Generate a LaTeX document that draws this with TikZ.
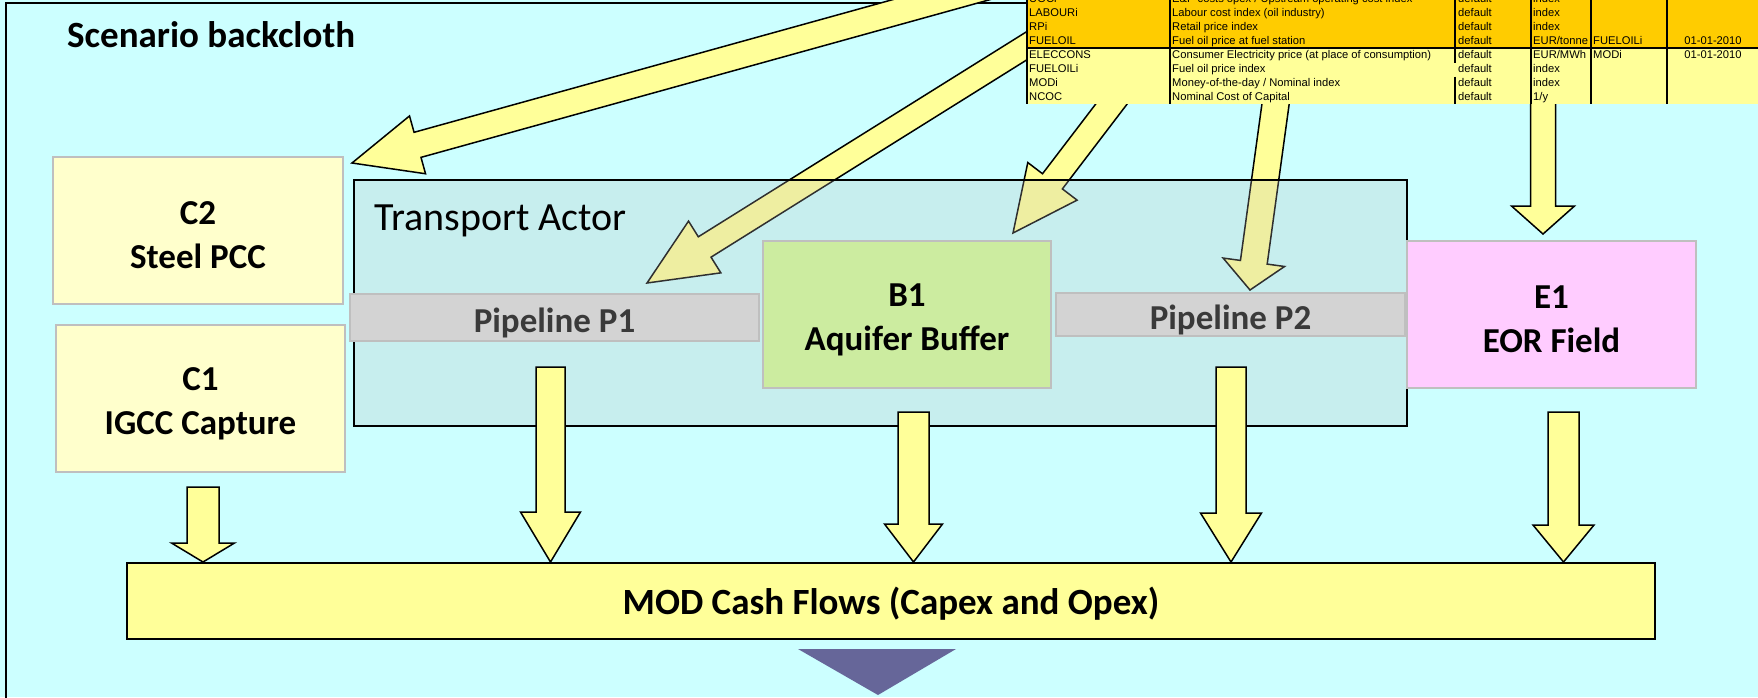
\documentclass[tikz,border=0pt]{standalone}
\usepackage{fontspec}
\setmainfont{Carlito}
\newfontfamily\tablefont{Liberation Sans}
\usetikzlibrary{calc}

\definecolor{backcloth}{RGB}{204,255,255}
\definecolor{capbox}{RGB}{255,255,204}
\definecolor{boxedge}{RGB}{191,191,191}
\definecolor{pipefill}{RGB}{211,211,211}
\definecolor{bufferfill}{RGB}{204,236,160}
\definecolor{eorfill}{RGB}{255,204,255}
\definecolor{flowyellow}{RGB}{255,255,153}
\definecolor{actorgray}{RGB}{188,188,188}
\definecolor{tableorange}{RGB}{255,204,0}
\definecolor{downpurple}{RGB}{102,102,153}
\definecolor{pipetext}{RGB}{58,58,58}

\tikzset{
  bigarrow/.style={fill=flowyellow, draw=black, line width=1.5pt, line join=miter},
  unitbox/.style={draw=boxedge, line width=2pt, inner sep=0pt},
  unittext/.style={align=center, inner sep=0pt, yshift=-5pt,
    font=\fontsize{35}{44}\selectfont\bfseries},
  pipebox/.style={draw=boxedge, line width=2pt, fill=pipefill, inner sep=0pt,
    text depth=0pt, text=pipetext, font=\fontsize{35}{44}\selectfont\bfseries},
  tcell/.style={anchor=base west, inner sep=0pt,
    font=\tablefont\fontsize{11.2}{13}\selectfont},
  tline/.style={line width=2pt},
}

% block arrow: tail, tip, shaft half width, head half width, head length
\newcommand\blockarrow[5]{%
  \coordinate (ba) at ($(#2)!#5!(#1)$);
  \filldraw[bigarrow]
    ($(#1)!#3!90:(#2)$) -- ($(ba)!#3!90:(#2)$) -- ($(ba)!#4!90:(#2)$) -- (#2)
    -- ($(ba)!#4!-90:(#2)$) -- ($(ba)!#3!-90:(#2)$) -- ($(#1)!#3!-90:(#2)$) -- cycle;
}

% one row of the parameter table: row number, six cells
\newcommand\tablerow[7]{%
  \node[tcell] (r#1c1) at (1029,{2.6+14*(#1-1)}) {#2};
  \node[tcell] (r#1c2) at (1172,{2.6+14*(#1-1)}) {#3};
  \node[tcell] (r#1c3) at (1458,{2.6+14*(#1-1)}) {#4};
  \node[tcell] (r#1c4) at (1533,{2.6+14*(#1-1)}) {#5};
  \node[tcell] (r#1c5) at (1593,{2.6+14*(#1-1)}) {#6};
  \node[tcell, anchor=base] (r#1c6) at (1713,{2.6+14*(#1-1)}) {#7};
}

\begin{document}
\begin{tikzpicture}[x=1pt, y=-1pt]
\useasboundingbox (0,0) rectangle (1758,697);
\clip (0,0) rectangle (1758,697);

% backcloth
\fill[backcloth] (0,0) rectangle (1758,697);
\draw[line width=2pt] (6,760) -- (6,3) -- (1800,3);
\node[anchor=base west, inner sep=0pt, font=\fontsize{37}{44}\selectfont\bfseries]
  (title) at (67,47) {Scenario backcloth};

% arrows coming down from the parameter table
\coordinate (src1) at (1050,-30.5);  \coordinate (dst1) at (352,163);
\coordinate (src2) at (1156,-35);    \coordinate (dst2) at (647,283);
\coordinate (src3) at (1195,-5.5);   \coordinate (dst3) at (1013,233);
\coordinate (src4) at (1284,42.5);   \coordinate (dst4) at (1250,290);
\coordinate (src5) at (1543,50);     \coordinate (dst5) at (1543,234);
\blockarrow{src1}{dst1}{13pt}{30pt}{68pt}
\blockarrow{src2}{dst2}{12pt}{30.5pt}{68pt}
\blockarrow{src3}{dst3}{12.5pt}{31pt}{65pt}
\blockarrow{src4}{dst4}{13.5pt}{31pt}{28pt}
\blockarrow{src5}{dst5}{12.5pt}{31.5pt}{28pt}

% transport actor
\node[draw=black, line width=1.5pt, fill=actorgray, fill opacity=0.25,
  minimum width=1053pt, minimum height=246pt, inner sep=0pt] (actor) at (880.5,303) {};
\node[anchor=base west, inner sep=0pt, font=\fontsize{40}{48}\selectfont]
  (actorlabel) at (374,230) {Transport Actor};

% units
\node[unitbox, fill=capbox, minimum width=290pt, minimum height=147pt,
  label={[unittext]center:C2\\Steel PCC}] (c2) at (198,230.5) {};
\node[unitbox, fill=capbox, minimum width=289pt, minimum height=147pt,
  label={[unittext]center:C1\\IGCC Capture}] (c1) at (200.5,398.5) {};
\node[pipebox, minimum width=409pt, minimum height=47pt]
  (p1) at (554.5,317.5) {\raisebox{-5pt}{Pipeline P1}};
\node[unitbox, fill=bufferfill, minimum width=288pt, minimum height=147pt,
  label={[unittext]center:B1\\Aquifer Buffer}] (b1) at (907,314.5) {};
\node[pipebox, minimum width=349pt, minimum height=43pt]
  (p2) at (1230.5,314.5) {\raisebox{-5pt}{Pipeline P2}};
\node[unitbox, fill=eorfill, minimum width=289pt, minimum height=147pt,
  label={[unittext]center:E1\\EOR Field}] (e1) at (1551.5,314.5) {};

% cash flows
\node[draw=black, line width=2pt, fill=flowyellow, minimum width=1528pt,
  minimum height=76pt, inner sep=0pt, text depth=0pt,
  font=\fontsize{37}{44}\selectfont\bfseries]
  (mod) at (891,601) {MOD Cash Flows (Capex and Opex)};

\coordinate (c1out) at (203,487);    \coordinate (c1in) at (c1out |- mod.north);
\coordinate (p1out) at (550.5,367);  \coordinate (p1in) at (p1out |- mod.north);
\coordinate (b1out) at (913.5,412);  \coordinate (b1in) at (b1out |- mod.north);
\coordinate (p2out) at (1231,367);   \coordinate (p2in) at (p2out |- mod.north);
\coordinate (e1out) at (1563.5,412); \coordinate (e1in) at (e1out |- mod.north);
\blockarrow{c1out}{c1in}{16pt}{31.5pt}{19pt}
\blockarrow{p1out}{p1in}{14.5pt}{30pt}{50pt}
\blockarrow{b1out}{b1in}{15.5pt}{29pt}{38pt}
\blockarrow{p2out}{p2in}{15pt}{30.5pt}{49pt}
\blockarrow{e1out}{e1in}{15.5pt}{30.5pt}{37pt}

\fill[downpurple] (798,649) -- (956,649) -- (878,695) -- cycle;

% parameter table
\fill[tableorange] (1027,-5) rectangle (1770,48);
\fill[flowyellow] (1027,48) rectangle (1770,104);
\draw[line width=2.5pt] (1027,48) -- (1770,48);
\draw[line width=1.5pt] (1027,-5) -- (1027,104);
\foreach \x in {1170,1531,1591,1667} \draw[tline] (\x,-5) -- (\x,104);
\draw[tline] (1455,-5) -- (1455,62.5) (1455,76.5) -- (1455,104);

\tablerow{1}{UOCi}{E\&P costs opex / Upstream operating cost index}{default}{index}{}{}
\tablerow{2}{LABOURi}{Labour cost index (oil industry)}{default}{index}{}{}
\tablerow{3}{RPi}{Retail price index}{default}{index}{}{}
\tablerow{4}{FUELOIL}{Fuel oil price at fuel station}{default}{EUR/tonne}{FUELOILi}{01-01-2010}
\tablerow{5}{ELECCONS}{Consumer Electricity price (at place of consumption)}{default}{EUR/MWh}{MODi}{01-01-2010}
\tablerow{6}{FUELOILi}{Fuel oil price index}{default}{index}{}{}
\tablerow{7}{MODi}{Money-of-the-day / Nominal index}{default}{index}{}{}
\tablerow{8}{NCOC}{Nominal Cost of Capital}{default}{1/y}{}{}
\end{tikzpicture}
\end{document}
